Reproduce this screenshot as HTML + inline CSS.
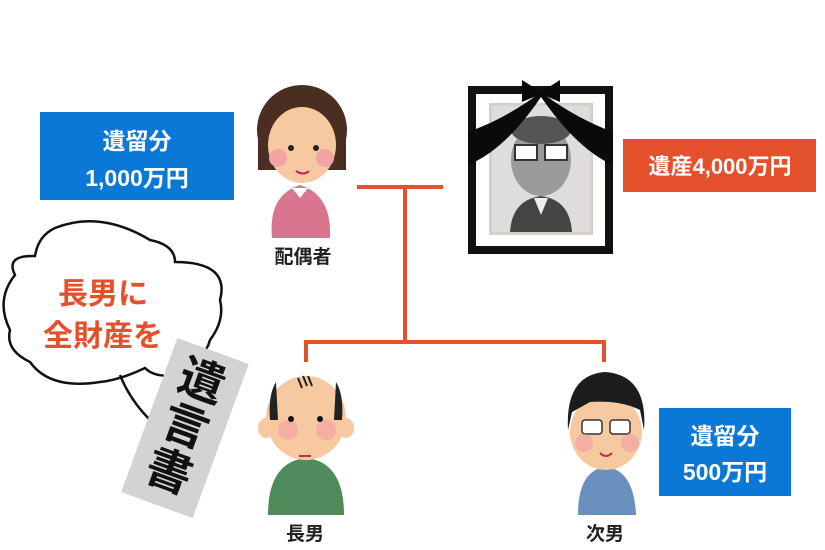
<!DOCTYPE html>
<html><head><meta charset="utf-8"><style>
html,body{margin:0;padding:0;background:#fff;width:825px;height:550px;overflow:hidden}
svg{display:block}
text{font-family:"Liberation Sans","Noto Sans CJK JP",sans-serif;font-weight:bold}
</style></head><body>
<svg width="825" height="550" viewBox="0 0 825 550" xmlns="http://www.w3.org/2000/svg">
<g stroke="#e4502c" stroke-width="4" fill="none">
<line x1="357" y1="187" x2="443" y2="187"/>
<line x1="405" y1="187" x2="405" y2="342"/>
<polyline points="306,362 306,342 604,342 604,362"/>
</g>
<rect x="40" y="112" width="194" height="88" fill="#0a78d6"/>
<text x="137" y="149" font-size="23" fill="#fff" text-anchor="middle">遺留分</text>
<text x="137" y="186" font-size="23" fill="#fff" text-anchor="middle">1,000万円</text>
<rect x="623" y="139" width="193" height="53" fill="#e4502c"/>
<text x="720" y="174" font-size="22" fill="#fff" text-anchor="middle">遺産4,000万円</text>
<rect x="659" y="408" width="132" height="88" fill="#0a78d6"/>
<text x="725" y="444" font-size="23" fill="#fff" text-anchor="middle">遺留分</text>
<text x="725" y="480" font-size="23" fill="#fff" text-anchor="middle">500万円</text>
<!-- spouse -->
<path d="M272 238 Q268 195 300 185 Q332 195 330 238 Z" fill="#d9758d"/>
<path d="M292 188 L300 198 L308 188 Z" fill="#fff"/>
<ellipse cx="302" cy="130" rx="45" ry="45" fill="#4a2e22"/>
<rect x="258" y="130" width="88" height="40" fill="#4a2e22"/>
<ellipse cx="302" cy="145" rx="34" ry="38" fill="#f6c9a0"/>
<circle cx="278" cy="158" r="9" fill="#f3a3a3"/>
<circle cx="325" cy="158" r="9" fill="#f3a3a3"/>
<circle cx="291" cy="148" r="3" fill="#222"/><circle cx="316" cy="148" r="3" fill="#222"/>
<path d="M296 171 Q303 176 309 171" stroke="#c02050" stroke-width="2" fill="none"/>
<text x="303" y="263" font-size="19" fill="#222" text-anchor="middle">配偶者</text>
<!-- portrait -->
<rect x="468" y="86" width="145" height="168" fill="#111"/>
<rect x="476" y="94" width="129" height="152" fill="#fff"/>
<rect x="489" y="103" width="104" height="132" fill="#d8d0c8"/>
<rect x="492" y="106" width="98" height="126" fill="#ddd"/>
<path d="M510 232 Q512 200 541 196 Q570 200 572 232 Z" fill="#444"/>
<path d="M534 198 L541 215 L548 198 Z" fill="#eee"/>
<ellipse cx="541" cy="160" rx="30" ry="36" fill="#9a9a9a"/>
<ellipse cx="541" cy="130" rx="30" ry="14" fill="#555"/>
<rect x="515" y="145" width="22" height="15" fill="#fff" stroke="#333" stroke-width="2"/>
<rect x="545" y="145" width="22" height="15" fill="#fff" stroke="#333" stroke-width="2"/>
<path d="M468 165 Q505 150 541 97 Q578 150 613 165 L613 132 Q575 118 541 92 Q507 118 468 132 Z" fill="#0a0a0a"/>
<path d="M522 80 L541 92 L560 80 L560 102 L541 94 L522 102 Z" fill="#0a0a0a"/>
<!-- eldest son -->
<path d="M268 515 Q268 462 306 458 Q344 462 344 515 Z" fill="#4f8a5a"/>
<ellipse cx="306" cy="418" rx="40" ry="42" fill="#f6c9a0"/>
<ellipse cx="266" cy="428" rx="8" ry="10" fill="#f6c9a0"/>
<ellipse cx="346" cy="428" rx="8" ry="10" fill="#f6c9a0"/>
<path d="M270 420 Q268 395 276 382 L278 420 Z" fill="#222"/>
<path d="M342 420 Q344 395 336 382 L334 420 Z" fill="#222"/>
<path d="M298 378 l4 10 M303 376 l4 10 M308 376 l4 10" stroke="#222" stroke-width="2"/>
<circle cx="288" cy="430" r="10" fill="#f3a3a3" opacity=".7"/>
<circle cx="326" cy="430" r="10" fill="#f3a3a3" opacity=".7"/>
<circle cx="291" cy="419" r="3" fill="#111"/><circle cx="320" cy="419" r="3" fill="#111"/>
<line x1="299" y1="456" x2="311" y2="456" stroke="#c03050" stroke-width="2"/>
<text x="305" y="540" font-size="19" fill="#222" text-anchor="middle">長男</text>
<!-- second son -->
<path d="M578 515 Q578 470 606 467 Q634 470 636 515 Z" fill="#6a90bf"/>
<ellipse cx="606" cy="432" rx="36" ry="38" fill="#f6c9a0"/>
<path d="M568 430 Q565 375 605 372 Q648 375 644 430 L640 410 Q620 400 590 402 L572 412 Z" fill="#1c1c1c"/>
<rect x="582" y="420" width="20" height="14" rx="3" fill="#fff" stroke="#333" stroke-width="1.5"/>
<rect x="610" y="420" width="20" height="14" rx="3" fill="#fff" stroke="#333" stroke-width="1.5"/>
<circle cx="584" cy="443" r="9" fill="#f3a3a3" opacity=".7"/>
<circle cx="630" cy="443" r="9" fill="#f3a3a3" opacity=".7"/>
<path d="M600 453 Q606 459 612 453" stroke="#c03050" stroke-width="2" fill="none"/>
<text x="605" y="540" font-size="19" fill="#222" text-anchor="middle">次男</text>
<!-- thought bubble -->
<path d="M55 228 Q100 210 150 240 Q175 245 175 262 Q230 262 220 300 Q225 320 210 340 Q205 360 175 375 Q155 378 145 368 Q120 380 100 382 Q50 390 30 362 Q5 350 10 330 Q-5 300 15 275 Q5 255 35 256 Q38 236 55 228 Z" fill="#fff" stroke="#111" stroke-width="2.5"/>
<path d="M120 375 Q130 400 150 420" stroke="#111" stroke-width="2.5" fill="none"/>
<text x="103" y="304" font-size="30" fill="#e4502c" text-anchor="middle">長男に</text>
<text x="103" y="346" font-size="30" fill="#e4502c" text-anchor="middle">全財産を</text>
<!-- will -->
<g transform="translate(185,428) rotate(20)">
<rect x="-38" y="-82" width="76" height="164" fill="#d3d3d1"/>
<text x="0" y="-34" font-size="46" fill="#111" text-anchor="middle">遺</text>
<text x="0" y="14" font-size="46" fill="#111" text-anchor="middle">言</text>
<text x="0" y="62" font-size="46" fill="#111" text-anchor="middle">書</text>
</g>
</svg>
</body></html>
